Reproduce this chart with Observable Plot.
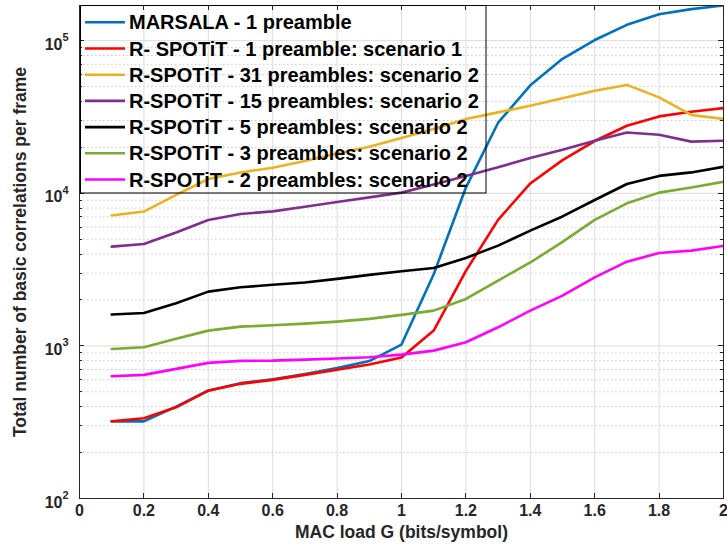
<!DOCTYPE html>
<html><head><meta charset="utf-8">
<script src="https://cdn.jsdelivr.net/npm/d3@7"></script>
<script src="https://cdn.jsdelivr.net/npm/@observablehq/plot@0.6"></script>
<style>
html,body{margin:0;padding:0;background:#fff;}
#chart{width:727px;height:552px;overflow:hidden;}
</style></head><body><div id="chart"></div>
<script>
// ---- data ----
const G = [0.1,0.2,0.3,0.4,0.5,0.6,0.7,0.8,0.9,1.0,1.1,1.2,1.3,1.4,1.5,1.6,1.7,1.8,1.9,2.0];
const marsala1 = [320,320,400,510,570,605,655,715,795,1020,2950,10900,29000,51000,76000,101000,127000,149000,161000,170000];
const rspotit1 = [321,336,396,509,564,599,646,697,755,840,1260,3100,6700,11600,16500,22000,27700,31900,34200,36200];
const rspotit31 = [7160,7590,9750,12400,13700,14700,16300,18200,20200,23000,26400,30700,33900,37500,41900,47000,51300,42500,32600,30700];
const rspotit15 = [4470,4650,5540,6690,7320,7610,8170,8770,9400,10100,11400,13000,14800,17000,19300,22100,25000,24200,21800,22100];
const rspotit5 = [1604,1644,1902,2268,2422,2513,2602,2750,2920,3080,3240,3770,4540,5690,7050,9040,11500,13000,13700,14900];
const rspotit3 = [955,979,1112,1259,1337,1364,1400,1443,1503,1597,1703,2031,2680,3520,4800,6690,8590,10100,10900,11900];
const rspotit2 = [632,646,707,774,798,801,813,826,842,877,931,1056,1324,1703,2133,2812,3565,4063,4210,4520];

const seriesNames = [
  "MARSALA - 1 preamble",
  "R- SPOTiT - 1 preamble: scenario 1",
  "R-SPOTiT - 31 preambles: scenario 2",
  "R-SPOTiT - 15 preambles: scenario 2",
  "R-SPOTiT - 5 preambles: scenario 2",
  "R-SPOTiT - 3 preambles: scenario 2",
  "R-SPOTiT - 2 preambles: scenario 2"
];
const seriesValues = [marsala1, rspotit1, rspotit31, rspotit15, rspotit5, rspotit3, rspotit2];
const seriesColors = ["#0072BD","#FF0000","#EDB120","#7E2F8E","#000000","#77AC30","#FF00FF"];

const xTicks = [0,0.2,0.4,0.6,0.8,1,1.2,1.4,1.6,1.8,2];
const xTickLabels = ["0","0.2","0.4","0.6","0.8","1","1.2","1.4","1.6","1.8","2"];
const yMajor = [1e2,1e3,1e4,1e5];
const yExponents = ["2","3","4","5"];
const yMinor = [2e2,3e2,4e2,5e2,6e2,7e2,8e2,9e2,2e3,3e3,4e3,5e3,6e3,7e3,8e3,9e3,2e4,3e4,4e4,5e4,6e4,7e4,8e4,9e4];
const xLabel = "MAC load G (bits/symbol)";
const yLabel = "Total number of basic correlations per frame";

// ---- build table ----
const rows = seriesNames.flatMap((name, i) => G.map((g, j) => ({series: name, g, v: seriesValues[i][j]})));

const FONT = "'Liberation Sans', Arial, Helvetica, sans-serif";
const AX = "#262626";

const chart = Plot.plot({
  width: 727, height: 552,
  marginLeft: 79, marginRight: 4, marginTop: 5, marginBottom: 54,
  style: {fontFamily: FONT, background: "#fff", overflow: "visible"},
  x: {domain: [0, 2], axis: null},
  y: {type: "log", domain: [100, 170000], axis: null},
  color: {domain: seriesNames, range: seriesColors},
  marks: [
    Plot.ruleY(yMinor, {y: d => d, stroke: "#c8c8c8", strokeDasharray: "1.5,2.5", strokeWidth: 1}),
    Plot.ruleY(yMajor.slice(1), {y: d => d, stroke: "#dcdcdc", strokeWidth: 1}),
    Plot.ruleX(xTicks.slice(1, -1), {x: d => d, stroke: "#dcdcdc", strokeWidth: 1}),
    Plot.line(rows, {x: "g", y: "v", stroke: "series", strokeWidth: 2.6, clip: true, strokeLinejoin: "round"}),
    Plot.frame({stroke: AX, strokeWidth: 1}),
    Plot.text(xTicks, {x: d => d, frameAnchor: "bottom", dy: 17, text: (d, i) => xTickLabels[i],
      textAnchor: "middle", fontSize: 16, fontWeight: "bold", fill: AX}),
    Plot.text(yMajor, {y: d => d, frameAnchor: "left", dx: -17, dy: 4, text: () => "10",
      textAnchor: "end", fontSize: 16, fontWeight: "bold", fill: AX}),
    Plot.text(yMajor, {y: d => d, frameAnchor: "left", dx: -11, dy: -3, text: (d, i) => yExponents[i],
      textAnchor: "end", fontSize: 11, fontWeight: "bold", fill: AX}),
    Plot.text([xLabel], {frameAnchor: "bottom", dy: 39, text: d => d,
      textAnchor: "middle", fontSize: 17.5, fontWeight: "bold", fill: AX}),
    Plot.text([yLabel], {frameAnchor: "left", dx: -59, rotate: -90, text: d => d,
      textAnchor: "middle", fontSize: 17.5, fontWeight: "bold", fill: AX})
  ]
});
document.getElementById("chart").appendChild(chart);

// ---- inward ticks (MATLAB style), positioned with Plot's own scales ----
const sx = chart.scale("x"), sy = chart.scale("y");
const svg = d3.select(chart);
const x0 = sx.apply(0), x1 = sx.apply(2), y0 = sy.apply(100), y1 = sy.apply(170000);
const tg = svg.append("g").attr("stroke", AX).attr("stroke-width", 1);
xTicks.forEach(t => {
  const x = Math.round(sx.apply(t)) + 0.5;
  tg.append("line").attr("x1", x).attr("x2", x).attr("y1", y0).attr("y2", y0 - 5);
  tg.append("line").attr("x1", x).attr("x2", x).attr("y1", y1).attr("y2", y1 + 5);
});
yMajor.forEach(t => {
  const y = Math.round(sy.apply(t)) + 0.5;
  tg.append("line").attr("y1", y).attr("y2", y).attr("x1", x0).attr("x2", x0 + 5);
  tg.append("line").attr("y1", y).attr("y2", y).attr("x1", x1).attr("x2", x1 - 5);
});
yMinor.forEach(t => {
  const y = Math.round(sy.apply(t)) + 0.5;
  tg.append("line").attr("y1", y).attr("y2", y).attr("x1", x0).attr("x2", x0 + 3);
  tg.append("line").attr("y1", y).attr("y2", y).attr("x1", x1).attr("x2", x1 - 3);
});

// ---- legend (transparent box, black border) ----
const lg = svg.append("g").attr("font-family", FONT).attr("font-weight", "bold")
  .attr("font-size", 20).attr("text-anchor", "start");
lg.append("rect").attr("x", 80.5).attr("y", 5.5).attr("width", 405.5).attr("height", 187.5)
  .attr("fill", "none").attr("stroke", "#000").attr("stroke-width", 1);
seriesNames.forEach((name, i) => {
  const y = 22.3 + i * 26.2;
  lg.append("line").attr("x1", 85).attr("x2", 125).attr("y1", y).attr("y2", y)
    .attr("stroke", seriesColors[i]).attr("stroke-width", 2.6);
  lg.append("text").attr("x", 129).attr("y", y).attr("dy", "0.35em").attr("fill", "#000")
    .attr("text-anchor", "start").text(name);
});
</script>
</body></html>
